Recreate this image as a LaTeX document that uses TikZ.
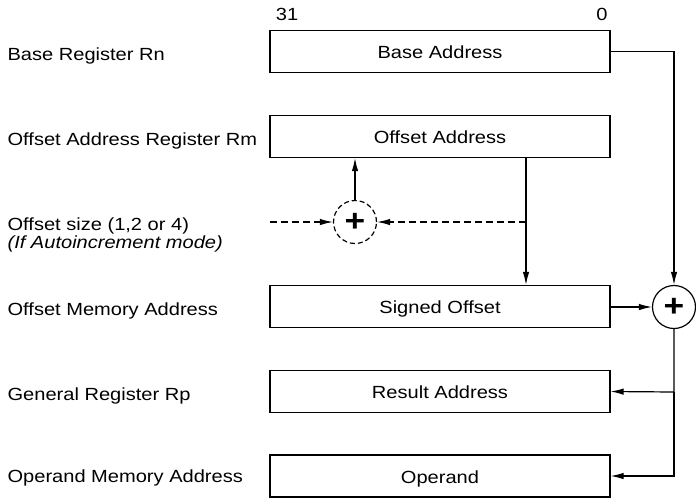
\documentclass[tikz,border=0pt]{standalone}
\usepackage{fontspec}
\setmainfont[FakeStretch=1.14]{Liberation Sans}
\usetikzlibrary{arrows.meta}
\begin{document}
\begin{tikzpicture}[x=1pt,y=-1pt,
  font=\fontsize{17.6pt}{18pt}\selectfont,
  line width=1.2pt,
  regbox/.style={draw, minimum width=340pt, minimum height=42pt, inner sep=0pt,
    text height=14.6pt, text depth=0pt},
  lbl/.style={anchor=base west, inner sep=0pt},
  adder/.style={draw, circle, minimum size=43pt, inner sep=0pt,
    font=\fontsize{31pt}{31pt}\selectfont\bfseries},
  dashline/.style={dash pattern=on 7pt off 4pt},
  arr/.style={-{Latex[length=13pt,width=6.5pt]}}
]
\useasboundingbox (0,0) rectangle (696,499);

% register column
\node[regbox] (base)   at (440,51.5)  {Base Address};
\node[regbox] (offs)   at (440,136.5) {Offset Address};
\node[regbox] (signed) at (440,306.5) {Signed Offset};
\node[regbox] (result) at (440,391.5) {Result Address};
\node[regbox] (oper)   at (440,476)   {Operand};

% bit numbers
\node[inner sep=0pt] (b31) at (287,14) {31};
\node[inner sep=0pt] (b0)  at (602,14) {0};

% left-hand labels
\node[lbl] (lbase)   at (7,60.5)  {Base Register Rn};
\node[lbl] (loffs)   at (7,145)   {Offset Address Register Rm};
\node[lbl] (lsize)   at (7,230)   {Offset size (1,2 or 4)};
\node[lbl] (lmode)   at (7,248)   {\itshape(If Autoincrement mode)};
\node[lbl] (lsigned) at (7,315)   {Offset Memory Address};
\node[lbl] (lresult) at (7,400)   {General Register Rp};
\node[lbl] (loper)   at (7,482)   {Operand Memory Address};

% adders
\node[adder, dash pattern=on 5pt off 3pt] (inc) at (355,222) {+};
\node[adder] (sum) at (674,307) {+};

% auto-increment path
\coordinate (sizein) at (270,222);
\coordinate (tap) at (526,222);
\draw[arr, dashline] (sizein) -- (inc.west);
\draw[arr, dashline] (tap) -- (inc.east);
\draw[arr] (inc.north) -- (inc.north |- offs.south);
\draw[arr] (tap |- offs.south) -- (tap |- signed.north);

% address sum
\draw[arr] (base.east) -| (sum.north);
\draw[arr] (signed.east |- sum.west) -- (sum.west);
\coordinate (split) at (674,392);
\draw[arr] (sum.south) -- (split) -- (result.east);
\draw[arr] (split) |- (oper.east);
\end{tikzpicture}
\end{document}
